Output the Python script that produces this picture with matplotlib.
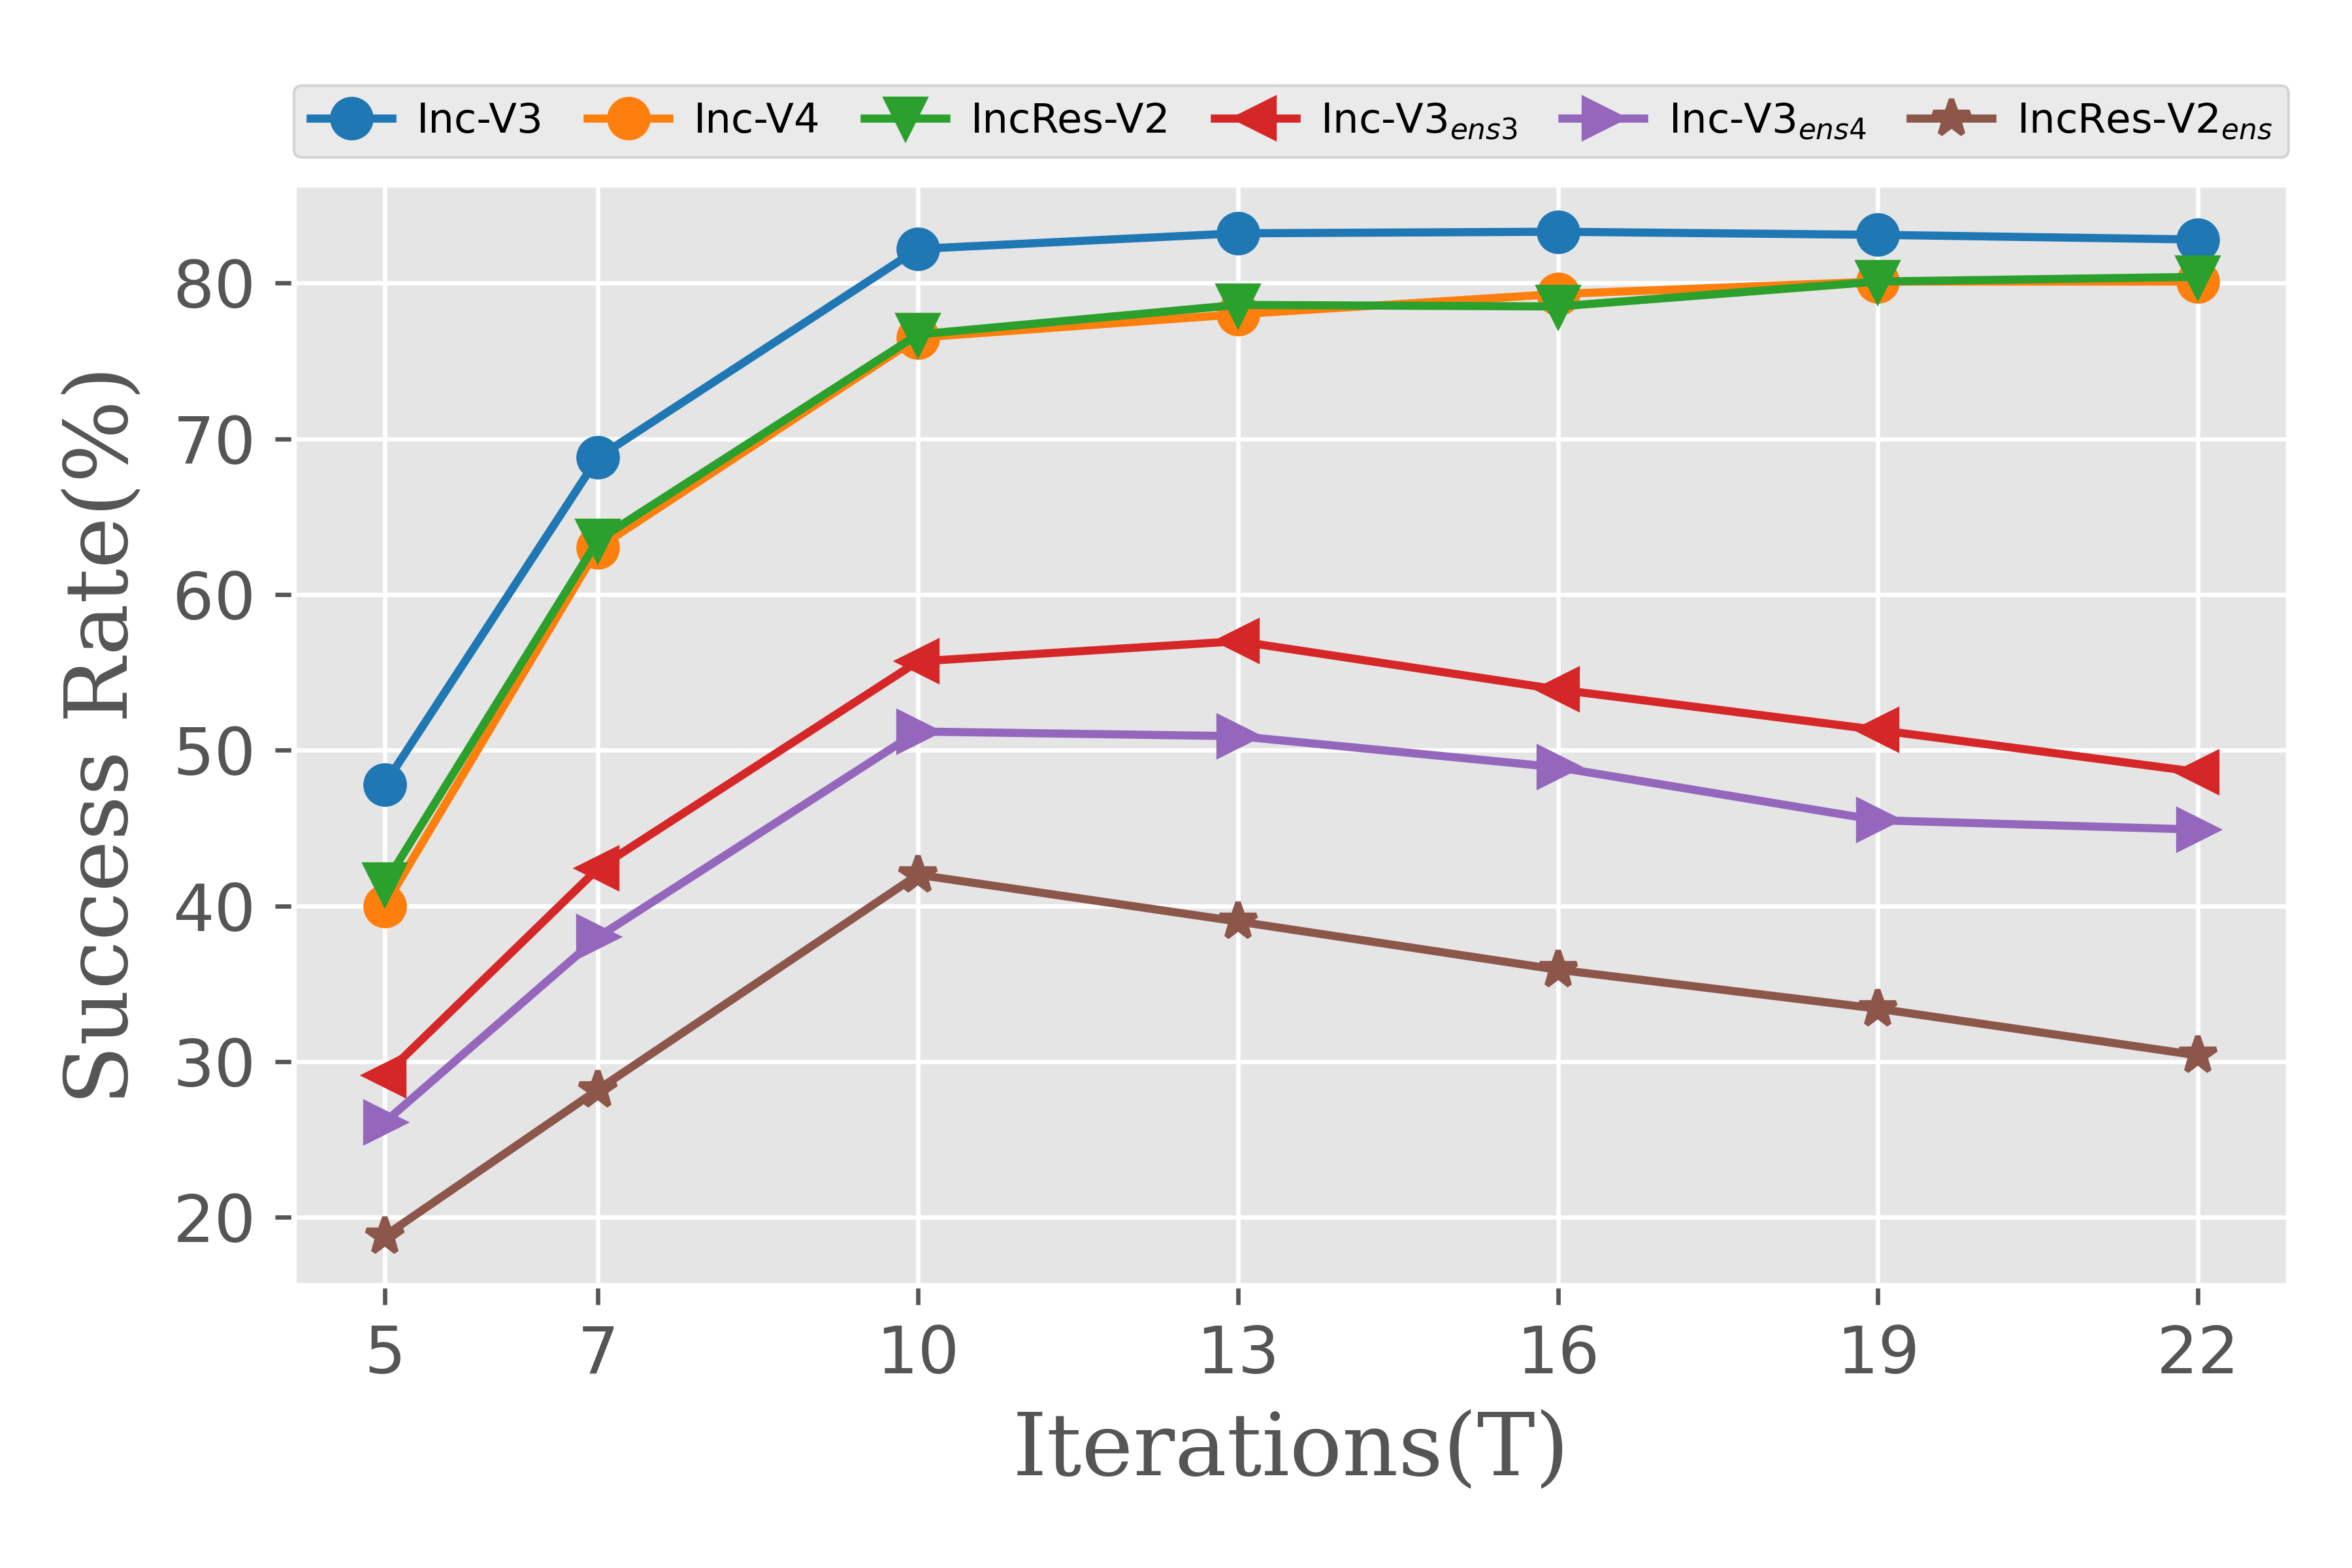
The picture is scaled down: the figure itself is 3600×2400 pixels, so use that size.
import matplotlib
matplotlib.use('Agg')
import matplotlib.pyplot as plt

plt.style.use('ggplot')

# iterations on x axis
iterations = [5, 7, 10, 13, 16, 19, 22]

# success rates (%) for each model
inc_v3 = [47.8, 68.8, 82.2, 83.2, 83.3, 83.1, 82.8]
inc_v4 = [40.0, 63.0, 76.5, 78.0, 79.3, 80.1, 80.1]
incres_v2 = [41.4, 63.5, 76.7, 78.6, 78.5, 80.1, 80.4]
inc_v3_ens3 = [29.1, 42.4, 55.7, 57.0, 53.9, 51.3, 48.6]
inc_v3_ens4 = [26.1, 38.0, 51.2, 50.9, 48.9, 45.5, 44.9]
incres_v2_ens = [18.8, 28.2, 42.0, 39.0, 35.9, 33.4, 30.4]

labels = ['Inc-V3', 'Inc-V4', 'IncRes-V2', r'Inc-V3$_{ens3}$',
          r'Inc-V3$_{ens4}$', r'IncRes-V2$_{ens}$']
series = [inc_v3, inc_v4, incres_v2, inc_v3_ens3, inc_v3_ens4, incres_v2_ens]
markers = ['o', 'o', 'v', '<', '>', '*']
colors = ['#1f77b4', '#ff7f0e', '#2ca02c', '#d62728', '#9467bd', '#8c564b']

fig = plt.figure(figsize=(6, 4), dpi=600)
ax = fig.add_axes([0.125, 0.180, 0.848, 0.702])

for vals, lab, m, c in zip(series, labels, markers, colors):
    ax.plot(iterations, vals, marker=m, color=c, label=lab, lw=1.5, markersize=7)

ax.set_xticks(iterations)
ax.set_yticks([20, 30, 40, 50, 60, 70, 80])
ax.set_ylim(15.6, 86.3)
ax.tick_params(labelsize=12)
ax.set_xlabel('Iterations(T)', family='serif', fontsize=16, labelpad=4)
ax.set_ylabel('Success Rate(%)', family='serif', fontsize=16, labelpad=5)

ax.legend(loc='lower left', bbox_to_anchor=(0.0, 1.025, 1.0, 0.05), mode='expand',
          ncol=6, fontsize=7.5, handlelength=2, columnspacing=0.8,
          handletextpad=0.6, borderaxespad=0, borderpad=0.4)

fig.savefig('out.png', dpi=600)
